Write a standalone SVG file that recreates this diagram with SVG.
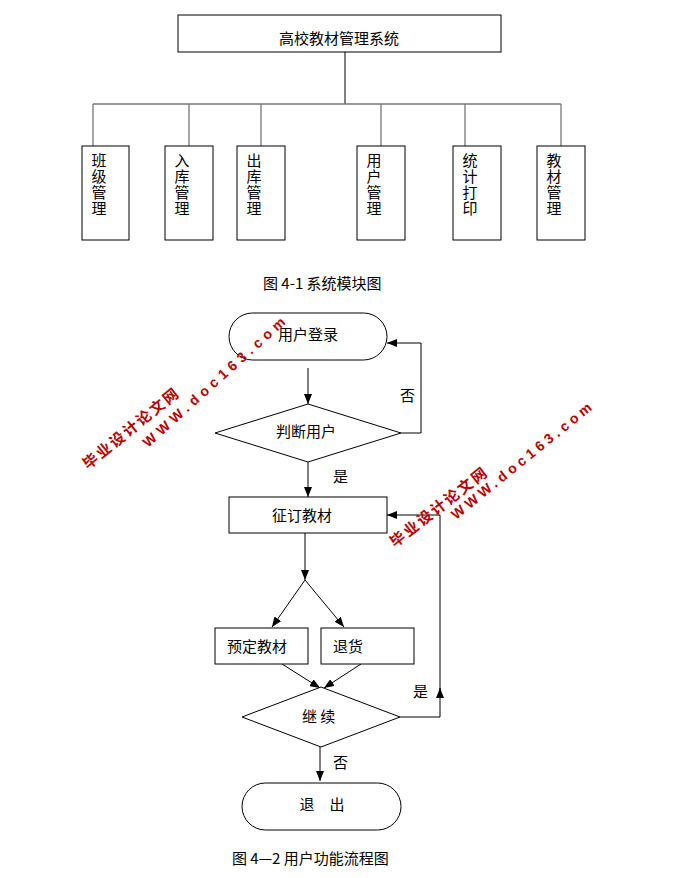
<svg xmlns="http://www.w3.org/2000/svg" width="679" height="878" viewBox="0 0 679 878">
<style>
.box{fill:#fff;stroke:#000;stroke-width:1}
.t{font-family:"Noto Sans CJK SC","Liberation Sans",sans-serif;font-size:15px;fill:#000}
.v{font-family:"Noto Sans CJK SC",sans-serif;font-size:15px;fill:#000;writing-mode:vertical-rl;letter-spacing:1px}
.ln{fill:none;stroke:#000;stroke-width:1}
.gl{fill:none;stroke:#777;stroke-width:1.3}
.wmc{font-family:"Noto Sans CJK SC",sans-serif;font-weight:bold;font-size:15px;fill:#b80000}
.wme{font-family:"Liberation Sans",sans-serif;font-weight:bold;font-size:14px;fill:#b80000}
</style>
<defs>
<marker id="ah" markerUnits="userSpaceOnUse" markerWidth="10" markerHeight="8" refX="10" refY="4" orient="auto">
<path d="M0,0 L10,4 L0,8 z" fill="#000"/>
</marker>
</defs>
<rect width="679" height="878" fill="#fff"/>

<g id="connectors">
<line class="ln" x1="345" y1="52" x2="345" y2="104"/>
<line class="gl" x1="93" y1="104" x2="561" y2="104"/>
<line class="gl" x1="93" y1="104" x2="93" y2="146"/>
<line class="gl" x1="189" y1="104" x2="189" y2="146"/>
<line class="gl" x1="261" y1="104" x2="261" y2="146"/>
<line class="gl" x1="381" y1="104" x2="381" y2="146"/>
<line class="gl" x1="465" y1="104" x2="465" y2="146"/>
<line class="gl" x1="561" y1="104" x2="561" y2="146"/>

<line class="ln" x1="308" y1="368" x2="308" y2="404" marker-end="url(#ah)"/>
<polyline class="ln" points="401,433 421,433 421,343 387,343" marker-end="url(#ah)"/>
<line class="ln" x1="308" y1="462" x2="308" y2="497" marker-end="url(#ah)"/>
<line class="ln" x1="305" y1="533" x2="305" y2="580" marker-end="url(#ah)"/>
<line class="ln" x1="305" y1="580" x2="272" y2="627" marker-end="url(#ah)"/>
<line class="ln" x1="305" y1="580" x2="344" y2="627" marker-end="url(#ah)"/>
<line class="ln" x1="282" y1="664" x2="320" y2="688" marker-end="url(#ah)"/>
<line class="ln" x1="361" y1="664" x2="324" y2="688" marker-end="url(#ah)"/>
<polyline class="ln" points="400,717 440,717 440,688" marker-end="url(#ah)"/>
<polyline class="ln" points="440,690 440,515 387,515" marker-end="url(#ah)"/>
<line class="ln" x1="320" y1="747" x2="320" y2="781" marker-end="url(#ah)"/>
<text class="t" x="400" y="401" font-size="14">否</text>
<text class="t" x="333" y="482" font-size="14">是</text>
<text class="t" x="413" y="697" font-size="14">是</text>
<text class="t" x="333" y="768" font-size="14">否</text>
</g>

<g id="root">
<rect class="box" x="178" y="15" width="323" height="37"/>
<text class="t" x="339" y="44" font-size="16" text-anchor="middle">高校教材管理系统</text>
</g>

<g id="m1"><rect class="box" x="82" y="146" width="47" height="94"/>
<text class="v" x="99" y="153">班级管理</text></g>
<g id="m2"><rect class="box" x="165" y="146" width="48" height="94"/>
<text class="v" x="182" y="153">入库管理</text></g>
<g id="m3"><rect class="box" x="237" y="146" width="48" height="94"/>
<text class="v" x="254" y="153">出库管理</text></g>
<g id="m4"><rect class="box" x="357" y="146" width="48" height="94"/>
<text class="v" x="374" y="153">用户管理</text></g>
<g id="m5"><rect class="box" x="453" y="146" width="48" height="94"/>
<text class="v" x="470" y="153">统计打印</text></g>
<g id="m6"><rect class="box" x="537" y="146" width="48" height="94"/>
<text class="v" x="554" y="153">教材管理</text></g>

<text class="t" x="263" y="289" font-size="14">图 4-1 系统模块图</text>

<g id="login"><rect class="box" x="229" y="313" width="158" height="47" rx="23.5"/>
<text class="t" x="308" y="340" text-anchor="middle">用户登录</text></g>
<g id="judge"><polygon class="box" points="308,404 401,433 308,462 215,433"/>
<text class="t" x="306" y="437" text-anchor="middle">判断用户</text></g>
<g id="order"><rect class="box" x="229" y="497" width="158" height="36"/>
<text class="t" x="302" y="521" text-anchor="middle">征订教材</text></g>
<g id="reserve"><rect class="box" x="215" y="628" width="93" height="36"/>
<text class="t" x="227" y="652">预定教材</text></g>
<g id="return"><rect class="box" x="321" y="628" width="93" height="36"/>
<text class="t" x="333" y="652">退货</text></g>
<g id="continue"><polygon class="box" points="321,687 400,717 321,747 242,717"/>
<text class="t" x="302" y="722">继 续</text></g>
<g id="exit"><rect class="box" x="242" y="783" width="159" height="47" rx="23.5"/>
<text class="t" x="322" y="810" text-anchor="middle">退　出</text></g>

<text class="t" x="232" y="864">图 4—2 用户功能流程图</text>

<g id="watermarks">
<text class="wme" transform="translate(148,448) rotate(-42)" textLength="186" lengthAdjust="spacing">WWW.doc163.com</text>
<text class="wmc" transform="translate(88,470) rotate(-39)" textLength="118" lengthAdjust="spacing">毕业设计论文网</text>
<text class="wme" transform="translate(456,520) rotate(-39)" textLength="176" lengthAdjust="spacing">WWW.doc163.com</text>
<text class="wmc" transform="translate(395,548) rotate(-38)" textLength="118" lengthAdjust="spacing">毕业设计论文网</text>
</g>
</svg>
